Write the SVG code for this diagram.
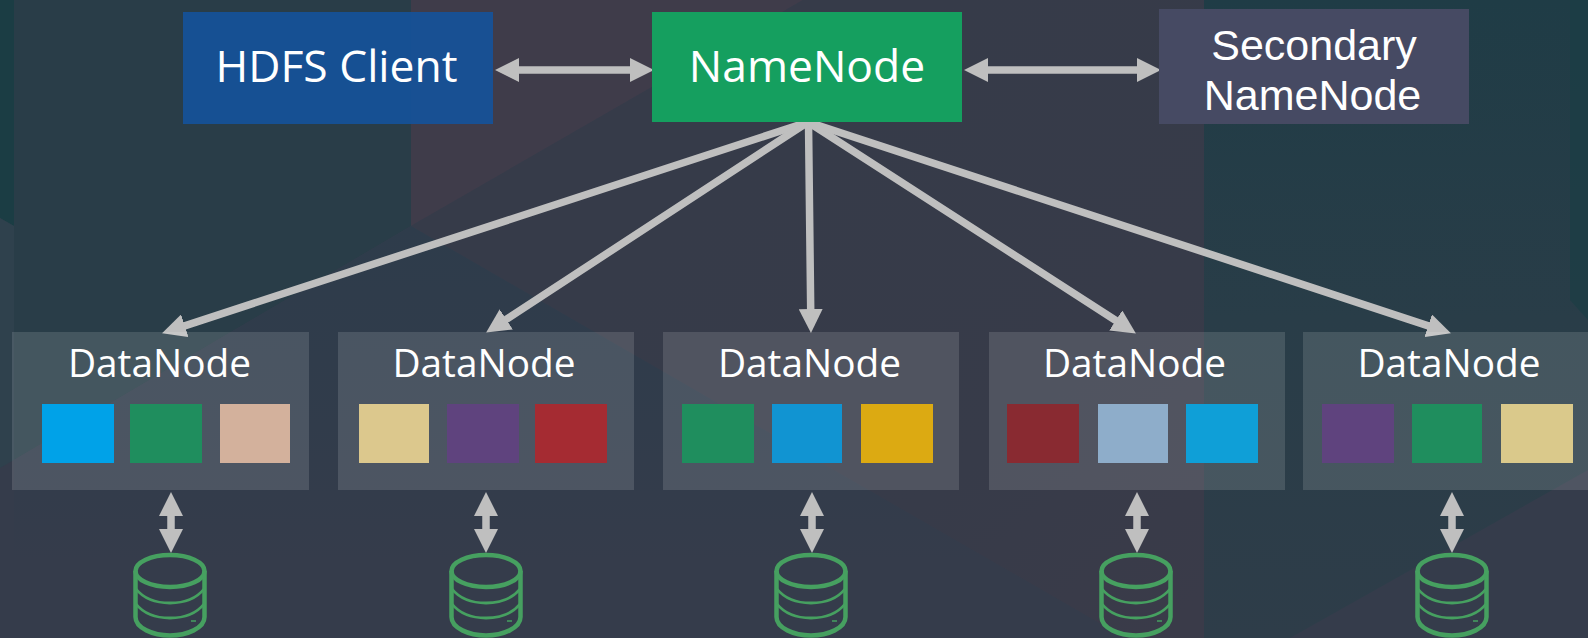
<svg xmlns="http://www.w3.org/2000/svg" xmlns:xlink="http://www.w3.org/1999/xlink" width="1588" height="638" viewBox="0 0 1588 638">
<style>
.t{fill:#fff;font-family:"Open Sans","Noto Sans","Liberation Sans",sans-serif;text-anchor:middle}
.big{font-size:44.4px}
.dn{font-size:38.800px}
.sec{fill:#fff;font-family:"Liberation Sans",Arial,sans-serif;font-size:43px;text-anchor:middle}
.box{fill:#fff;fill-opacity:.13}
.c{stroke:#bfbfbf;fill:none}
.d{stroke-width:7.500;stroke-linecap:round;marker-end:url(#a)}
.h{stroke-width:7.500;marker-start:url(#a);marker-end:url(#a)}
.db{fill:none;stroke:#46a060}
</style>
<defs>
<marker id="a" markerUnits="userSpaceOnUse" markerWidth="24" markerHeight="24" refX="1" refY="12" orient="auto-start-reverse"><path d="M0 0L24 12L0 24z" fill="#bfbfbf"/></marker>
<linearGradient id="rt" x1="0" y1="0" x2="0" y2="1"><stop offset="0" stop-color="#1f3c46"/><stop offset=".5" stop-color="#293d48"/><stop offset="1" stop-color="#2e3d49"/></linearGradient>
<linearGradient id="mid" gradientUnits="userSpaceOnUse" x1="800" y1="120" x2="1200" y2="600"><stop offset="0" stop-color="#363b49"/><stop offset=".6" stop-color="#373b49"/><stop offset="1" stop-color="#3a3b49"/></linearGradient>
<linearGradient id="low" gradientUnits="userSpaceOnUse" x1="0" y1="226" x2="0" y2="560"><stop offset="0" stop-color="#2e3c4b"/><stop offset=".6" stop-color="#313c4b"/><stop offset="1" stop-color="#353c4b"/></linearGradient>
<g id="cyl">
<ellipse cx="0" cy="571" rx="34.500" ry="16" class="db" stroke-width="4.500"/>
<path d="M-34.500 571V617C-34.500 628-17 635.500 0 635.500S34.500 628 34.500 617V571" class="db" stroke-width="4.500"/>
<path d="M-34 589C-26 599-14 603 0 603S26 599 34 589M-34 604C-26 614-14 618 0 618S26 614 34 604" class="db" stroke-width="2.800"/>
<path d="M21 621h5" class="db" stroke-width="1.500"/>
</g>
</defs>
<g id="background">
<rect width="1588" height="638" fill="#353c4b"/>
<path d="M411 0H803L411 226z" fill="#3f3c4a"/>
<path d="M411 226L803 0H1204V638H1125z" fill="url(#mid)"/>
<path d="M0 0H411V226L14 460H0z" fill="#293d48"/>
<path d="M411 226L14 460V638H1125z" fill="url(#low)"/>
<path d="M0 0H14V226L0 218z" fill="#1b3d44"/>
<path d="M0 218L14 226V460L0 468z" fill="#2f414d"/>
<path d="M1204 0H1588V470L1290 638H1204z" fill="url(#rt)"/>
<path d="M1570 0H1588V320L1570 300z" fill="#1b3d44" opacity=".7"/>
</g>
<g id="connectors">
<path class="c h" d="M518 70H631"/>
<path class="c h" d="M987 70H1138"/>
<path class="c d" d="M808 122L183.900 326.100"/>
<path class="c d" d="M808 122L505.400 319.900"/>
<path class="c d" d="M808.500 122L810.700 310"/>
<path class="c d" d="M808 122L1116.600 321"/>
<path class="c d" d="M808 122L1429.100 326.100"/>
<path class="c h" d="M171 515V530"/>
<path class="c h" d="M486 515V530"/>
<path class="c h" d="M812 515V530"/>
<path class="c h" d="M1137 515V530"/>
<path class="c h" d="M1452 515V530"/>
</g>
<g id="hdfs-client"><rect x="183" y="12" width="310" height="112" fill="rgb(20,82,155)" fill-opacity=".9"/><text class="t big" x="336.500" y="81.500">HDFS Client</text></g>
<g id="namenode"><rect x="652" y="12" width="310" height="110" fill="#159f5f"/><text class="t big" x="807" y="81.500">NameNode</text></g>
<g id="secondary-namenode"><rect x="1159" y="9" width="310" height="115" fill="#464a63"/><text class="sec" x="1314" y="60">Secondary</text><text class="sec" x="1312.500" y="110">NameNode</text></g>
<g id="datanode-1"><rect class="box" x="12" y="332" width="297" height="158"/><text class="t dn" x="159.500" y="377">DataNode</text>
<rect x="42" y="404" width="72" height="59" fill="#00a2e8"/><rect x="130" y="404" width="72" height="59" fill="#1f8e5e"/><rect x="220" y="404" width="70" height="59" fill="#d3b19c"/></g>
<g id="datanode-2"><rect class="box" x="338" y="332" width="296" height="158"/><text class="t dn" x="484" y="377">DataNode</text>
<rect x="359" y="404" width="70" height="59" fill="#dcc88d"/><rect x="447" y="404" width="72" height="59" fill="#5f437e"/><rect x="535" y="404" width="72" height="59" fill="#a52b32"/></g>
<g id="datanode-3"><rect class="box" x="663" y="332" width="296" height="158"/><text class="t dn" x="809.500" y="377">DataNode</text>
<rect x="682" y="404" width="72" height="59" fill="#1f8e5e"/><rect x="772" y="404" width="70" height="59" fill="#1194d2"/><rect x="861" y="404" width="72" height="59" fill="#dcaa12"/></g>
<g id="datanode-4"><rect class="box" x="989" y="332" width="296" height="158"/><text class="t dn" x="1134.500" y="377">DataNode</text>
<rect x="1007" y="404" width="72" height="59" fill="#892a31"/><rect x="1098" y="404" width="70" height="59" fill="#8eadca"/><rect x="1186" y="404" width="72" height="59" fill="#0f9fd7"/></g>
<g id="datanode-5"><rect class="box" x="1303" y="332" width="285" height="158"/><text class="t dn" x="1449" y="377">DataNode</text>
<rect x="1322" y="404" width="72" height="59" fill="#5f437e"/><rect x="1412" y="404" width="70" height="59" fill="#1f8e5e"/><rect x="1501" y="404" width="72" height="59" fill="#dac98b"/></g>
<g id="disk-1"><use href="#cyl" x="170"/></g>
<g id="disk-2"><use href="#cyl" x="486"/></g>
<g id="disk-3"><use href="#cyl" x="811"/></g>
<g id="disk-4"><use href="#cyl" x="1136"/></g>
<g id="disk-5"><use href="#cyl" x="1452"/></g>
</svg>
